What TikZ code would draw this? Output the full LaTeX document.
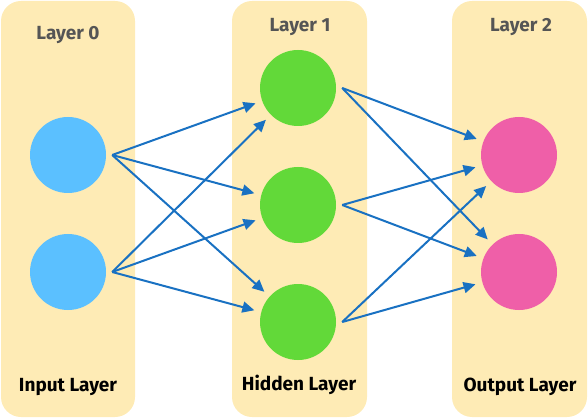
\documentclass[tikz,border=0pt]{standalone}
\usepackage{fontspec}
\setmainfont{Fira Sans}
\usepackage{xcolor}
\usetikzlibrary{arrows.meta,positioning}

\definecolor{panel}{HTML}{FEEBB5}
\definecolor{inblue}{HTML}{5BC0FF}
\definecolor{hidgreen}{HTML}{62D939}
\definecolor{outpink}{HTML}{EF5FA8}
\definecolor{arrowblue}{HTML}{1971C2}
\definecolor{labelgray}{HTML}{555555}

\begin{document}
\begin{tikzpicture}
  [x=1pt,y=-1pt,
   neuron/.style={circle,minimum size=76pt,inner sep=0pt},
   toplabel/.style={text=labelgray,font=\fontsize{19}{19}\selectfont\bfseries},
   botlabel/.style={text=black,font=\fontsize{19}{19}\selectfont\bfseries},
   arr/.style={draw=arrowblue,line width=2pt,shorten >=7pt,
     -{Triangle[length=12pt,width=11pt]}}]
  \useasboundingbox (0,0) rectangle (588,419);

  % layer panels
  \fill[panel,rounded corners=20pt] (1,1) rectangle (135,417);
  \fill[panel,rounded corners=20pt] (232,1) rectangle (367,417);
  \fill[panel,rounded corners=20pt] (452,1) rectangle (587,417);

  \node[toplabel] (l0) at (68,35) {Layer 0};
  \node[toplabel] (l1) at (300,27) {Layer 1};
  \node[toplabel] (l2) at (521,27) {Layer 2};
  \node[botlabel] (b0) at (68,387) {Input Layer};
  \node[botlabel] (b1) at (299,385) {Hidden Layer};
  \node[botlabel] (b2) at (520,387) {Output Layer};

  % neurons
  \node[neuron,fill=inblue] (i1) at (68,155) {};
  \node[neuron,fill=inblue] (i2) at (68,272) {};
  \node[neuron,fill=hidgreen] (h1) at (298,88) {};
  \node[neuron,fill=hidgreen] (h2) at (298,205) {};
  \node[neuron,fill=hidgreen] (h3) at (298,322) {};
  \node[neuron,fill=outpink] (o1) at (519,155) {};
  \node[neuron,fill=outpink] (o2) at (519,272) {};

  \foreach \n in {i1,i2,h1,h2,h3}
    \coordinate (out-\n) at ([xshift=6pt]\n.east);

  \foreach \from/\to in {i1/h1,i1/h2,i1/h3,i2/h1,i2/h2,i2/h3,
    h1/o1,h1/o2,h2/o1,h2/o2,h3/o1,h3/o2}
    \draw[arr] (out-\from) -- (\to);
\end{tikzpicture}
\end{document}
